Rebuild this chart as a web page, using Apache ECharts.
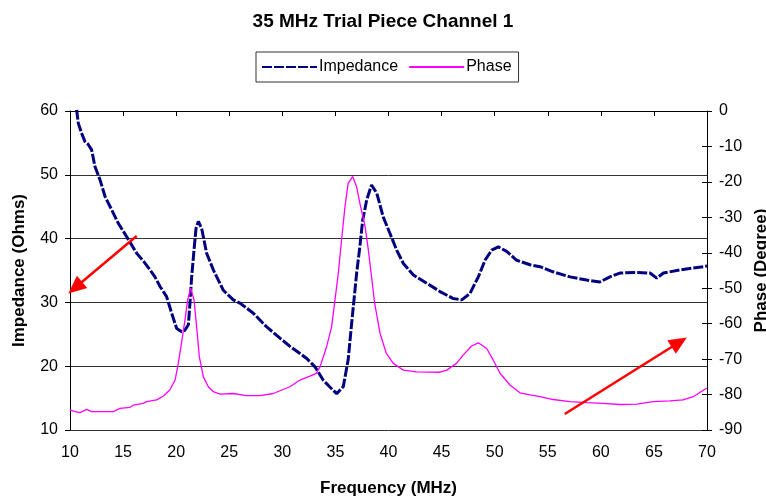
<!DOCTYPE html>
<html>
<head>
<meta charset="utf-8">
<title>35 MHz Trial Piece Channel 1</title>
<script src="https://cdn.jsdelivr.net/npm/echarts@6/dist/echarts.min.js"></script>
<style>
	html, body {margin: 0; padding: 0; background: #fff;}
	#chart {width: 766px; height: 496px;}
</style>
</head>
<body>
<div id="chart"></div>
<script>
var FONT = '"Liberation Sans", Arial, sans-serif';

// impedance curve (MHz / Ohms)
var impFreq = [10.3, 10.6, 10.78, 11.1, 11.41, 11.7, 12.04, 12.35, 12.83, 13.3, 13.93, 14.55, 15.34, 16.28, 16.9, 17.54, 18.0, 18.48, 19.1, 19.58, 20.05, 20.52, 20.8, 21.15, 21.3, 21.46, 21.68, 21.87, 22.09, 22.4, 22.87, 23.5, 24.44, 25.38, 26.0, 27.27, 28.5, 29.78, 30.72, 31.66, 32.3, 33.08, 33.86, 34.5, 35.12, 35.74, 36.2, 36.5, 36.75, 37.0, 37.3, 37.57, 37.95, 38.4, 38.9, 39.5, 40.14, 40.77, 41.4, 42.34, 43.6, 44.85, 46.1, 46.9, 47.67, 48.46, 49.09, 49.72, 50.34, 51.13, 52.07, 53.33, 54.27, 55.5, 57.1, 58.67, 59.9, 60.86, 61.8, 63.4, 64.63, 65.26, 65.9, 67.46, 69.65, 70];
var impVals = [62, 60.5, 58.1, 56.5, 55.2, 54.8, 53.9, 51.3, 49.2, 46.6, 44.5, 42.4, 40.3, 37.7, 36.5, 35.1, 34.0, 32.5, 30.9, 28.3, 25.9, 25.4, 25.6, 26.5, 29.9, 34.0, 38.2, 41.6, 42.7, 41.6, 37.7, 35.1, 31.9, 30.4, 29.9, 28.3, 26.2, 24.4, 23.1, 22.0, 21.2, 19.9, 17.8, 16.7, 15.7, 16.8, 21.0, 26.2, 30.4, 34.6, 38.7, 42.9, 46.1, 48.4, 47.1, 43.4, 40.8, 38.2, 36.1, 34.3, 33.0, 31.7, 30.6, 30.4, 31.4, 34.0, 36.6, 38.2, 38.7, 38.0, 36.6, 35.9, 35.6, 34.8, 34.0, 33.5, 33.2, 34.0, 34.6, 34.7, 34.6, 33.8, 34.6, 35.1, 35.6, 35.7];

// phase curve (MHz / degree)
var phaseFreq = [10, 10.5, 10.94, 11.57, 12.04, 13, 14.08, 14.7, 15.65, 15.96, 16.9, 17.2, 18.16, 18.8, 19.4, 19.9, 20.2, 20.5, 20.83, 21.08, 21.37, 21.68, 21.93, 22.18, 22.56, 23.03, 23.5, 24.13, 25.38, 26.6, 27.9, 29.15, 30.72, 31.66, 32.6, 33.2, 33.55, 34.17, 34.64, 34.96, 35.27, 35.58, 35.9, 36.2, 36.62, 37.0, 37.3, 37.8, 38.1, 38.4, 38.7, 39.2, 39.8, 40.45, 41.4, 42.65, 44.85, 45.48, 46.4, 47.05, 47.83, 48.46, 49.25, 49.87, 50.5, 51.44, 52.38, 53.33, 54.27, 55.5, 57.1, 58.67, 60.2, 61.8, 63.4, 64.9, 66.5, 67.75, 68.7, 69.8, 70];
var phaseVals = [-84.4, -84.8, -85.1, -84.2, -84.8, -84.8, -84.8, -83.9, -83.6, -83.0, -82.5, -82.0, -81.5, -80.4, -78.7, -75.9, -71.2, -65.5, -59.0, -53.3, -50.0, -53.3, -60.9, -69.3, -75.0, -77.8, -79.2, -79.9, -79.7, -80.3, -80.3, -79.7, -77.8, -75.9, -74.8, -74.0, -72.2, -66.5, -60.9, -53.3, -45.8, -36.4, -27.0, -20.4, -18.5, -21.4, -26.0, -32.6, -39.2, -46.7, -54.3, -62.7, -68.4, -71.2, -73.1, -73.6, -73.7, -73.1, -71.2, -68.8, -66.3, -65.4, -67.0, -70.3, -74.0, -77.3, -79.5, -80.1, -80.6, -81.4, -82.0, -82.3, -82.5, -82.8, -82.7, -82.0, -81.8, -81.5, -80.6, -78.5, -78.2];

// red annotation arrows, [tail, tip] in MHz / Ohms
var arrows = [
	[[16.28, 40.4], [9.84, 31.4]],
	[[56.6, 12.5], [68.1, 24.5]]
];

function pairs(xs, ys) {
	var out = [];
	for (var i = 0; i < xs.length; i++) {
		out.push([xs[i], ys[i]]);
	}
	return out;
}

function txt(size, bold, extra) {
	var s = {fontFamily: FONT, fontSize: size, fontWeight: bold ? 'bold' : 'normal', color: '#000'};
	for (var k in extra) {
		s[k] = extra[k];
	}
	return s;
}

var chart = echarts.init(document.getElementById('chart'));

var option = {
	animation: false,
	backgroundColor: '#fff',
	title: {
		text: '35 MHz Trial Piece Channel 1',
		left: 'center',
		top: 7,
		textStyle: txt(19, true)
	},
	legend: {
		top: 52,
		left: 256,
		padding: [7, 7, 7, 5],
		borderColor: '#333',
		borderWidth: 1,
		itemWidth: 55,
		itemHeight: 16,
		itemGap: 10,
		itemStyle: {opacity: 0},
		textStyle: txt(16, false, {padding: [0, 0, 0, -3]}),
		data: ['Impedance', 'Phase']
	},
	grid: {left: 70, right: 59, top: 111, bottom: 66, outerBoundsMode: 'none', containLabel: false},
	xAxis: {
		type: 'value',
		min: 10,
		max: 70,
		interval: 5,
		name: 'Frequency (MHz)',
		nameLocation: 'middle',
		nameGap: 50,
		nameTextStyle: txt(17, true),
		axisLine: {lineStyle: {color: '#000', width: 1}},
		axisTick: {length: 5, lineStyle: {color: '#000'}},
		axisLabel: txt(16, false, {margin: 15}),
		splitLine: {show: false}
	},
	yAxis: [{
		type: 'value',
		min: 10,
		max: 60,
		interval: 10,
		name: 'Impedance (Ohms)',
		nameLocation: 'middle',
		nameRotate: 90,
		nameGap: 42,
		nameTextStyle: txt(17, true),
		axisLine: {show: true, lineStyle: {color: '#000', width: 1}},
		axisTick: {show: true, length: 5, lineStyle: {color: '#000'}},
		axisLabel: txt(16, false, {margin: 12}),
		splitLine: {show: true, lineStyle: {color: '#333', width: 1}}
	}, {
		type: 'value',
		min: -90,
		max: 0,
		interval: 10,
		position: 'right',
		name: 'Phase (Degree)',
		nameLocation: 'middle',
		nameRotate: 90,
		nameGap: 45,
		nameTextStyle: txt(17, true),
		axisLine: {show: true, lineStyle: {color: '#000', width: 1}},
		axisTick: {show: true, length: 5, lineStyle: {color: '#000'}},
		axisLabel: txt(16, false, {margin: 12}),
		splitLine: {show: false}
	}, {
		// inner half of the crossing ticks on the right axis
		type: 'value',
		min: -90,
		max: 0,
		interval: 10,
		position: 'right',
		axisLine: {show: false},
		axisTick: {show: true, inside: true, length: 5, lineStyle: {color: '#000'}},
		axisLabel: {show: false},
		splitLine: {show: false}
	}],
	series: [{
		name: 'Impedance',
		type: 'line',
		yAxisIndex: 0,
		symbol: 'none',
		color: '#000080',
		lineStyle: {color: '#000080', width: 3, type: [10, 2]},
		data: pairs(impFreq, impVals)
	}, {
		name: 'Phase',
		type: 'line',
		yAxisIndex: 1,
		symbol: 'none',
		color: '#ff00ff',
		lineStyle: {color: '#ff00ff', width: 1.3},
		data: pairs(phaseFreq, phaseVals)
	}]
};

chart.setOption(option);

// arrows drawn as graphics, placed from data coordinates
function arrowGraphics() {
	var items = [];
	for (var i = 0; i < arrows.length; i++) {
		var a = chart.convertToPixel({xAxisIndex: 0, yAxisIndex: 0}, arrows[i][0]);
		var b = chart.convertToPixel({xAxisIndex: 0, yAxisIndex: 0}, arrows[i][1]);
		var dx = b[0] - a[0], dy = b[1] - a[1];
		var len = Math.sqrt(dx * dx + dy * dy);
		var ux = dx / len, uy = dy / len;
		var headLen = 18, headHalf = 8;
		var bx = b[0] - ux * headLen, by = b[1] - uy * headLen;
		items.push({
			type: 'line',
			z: 100,
			shape: {x1: a[0], y1: a[1], x2: bx + ux, y2: by + uy},
			style: {stroke: '#ff0000', lineWidth: 2.5}
		});
		items.push({
			type: 'polygon',
			z: 100,
			shape: {points: [[b[0], b[1]], [bx - uy * headHalf, by + ux * headHalf], [bx + uy * headHalf, by - ux * headHalf]]},
			style: {fill: '#ff0000'}
		});
	}
	return items;
}

chart.setOption({graphic: arrowGraphics()});
</script>
</body>
</html>
